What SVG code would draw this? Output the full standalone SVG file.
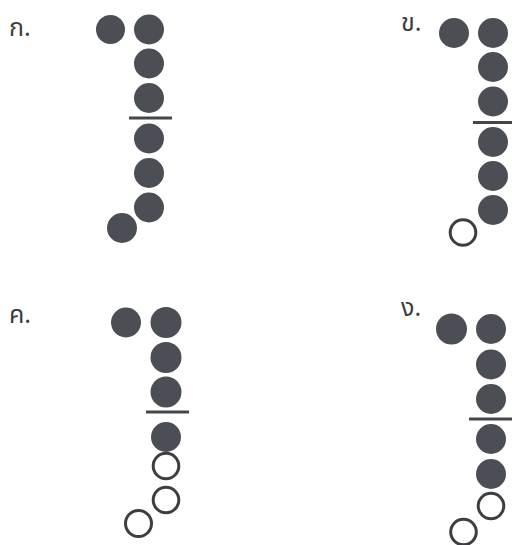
<svg xmlns="http://www.w3.org/2000/svg" width="512" height="545" viewBox="0 0 512 545">
<style>
.f{fill:#4b4e54;}
.o{fill:#fff;stroke:#3c3e42;stroke-width:3;}
.bar{stroke:#44464b;stroke-width:3;}
.lbl{font-family:"Noto Sans Thai","Noto Sans","DejaVu Sans","Liberation Sans",sans-serif;font-size:25px;fill:#3a3d42;}
</style>
<rect width="512" height="545" fill="#fff"/>
<g id="panel-ko">
<text class="lbl" x="9" y="36">ก.</text>
<circle class="f" cx="110.5" cy="29.5" r="14.5"/>
<circle class="f" cx="149" cy="29.5" r="15"/>
<circle class="f" cx="149" cy="63.5" r="15"/>
<circle class="f" cx="149" cy="98" r="15"/>
<line class="bar" x1="129" y1="118" x2="172" y2="118"/>
<circle class="f" cx="149" cy="138.5" r="15"/>
<circle class="f" cx="149" cy="173" r="15"/>
<circle class="f" cx="149" cy="207.5" r="15"/>
<circle class="f" cx="122" cy="228" r="15"/>
</g>
<g id="panel-kho">
<text class="lbl" x="401" y="31">ข.</text>
<circle class="f" cx="454" cy="33" r="15"/>
<circle class="f" cx="493" cy="33" r="15"/>
<circle class="f" cx="493" cy="67" r="15"/>
<circle class="f" cx="493" cy="101.5" r="15"/>
<line class="bar" x1="473" y1="122.5" x2="512" y2="122.5"/>
<circle class="f" cx="493" cy="142" r="15"/>
<circle class="f" cx="493" cy="176" r="15"/>
<circle class="f" cx="493" cy="210" r="15"/>
<circle class="o" cx="463" cy="232.5" r="12.8"/>
</g>
<g id="panel-kho-khwai">
<text class="lbl" x="9" y="323">ค.</text>
<circle class="f" cx="126" cy="322.5" r="15"/>
<circle class="f" cx="166" cy="322.5" r="15.5"/>
<circle class="f" cx="166" cy="357.5" r="15.5"/>
<circle class="f" cx="166" cy="392" r="15.5"/>
<line class="bar" x1="146" y1="412" x2="189" y2="412"/>
<circle class="f" cx="166" cy="437" r="15"/>
<circle class="o" cx="166" cy="466" r="12.8"/>
<circle class="o" cx="166" cy="500" r="12.8"/>
<circle class="o" cx="138.5" cy="523.5" r="13"/>
</g>
<g id="panel-ngo">
<text class="lbl" x="401" y="316">ง.</text>
<circle class="f" cx="451.5" cy="329" r="15.5"/>
<circle class="f" cx="491" cy="329" r="15"/>
<circle class="f" cx="491" cy="364.5" r="15"/>
<circle class="f" cx="491" cy="399" r="15"/>
<line class="bar" x1="469" y1="419" x2="512" y2="419"/>
<circle class="f" cx="491" cy="439" r="15"/>
<circle class="f" cx="491" cy="474" r="15"/>
<circle class="o" cx="491" cy="506" r="12.8"/>
<circle class="o" cx="463.5" cy="532" r="12.8"/>
</g>
</svg>
